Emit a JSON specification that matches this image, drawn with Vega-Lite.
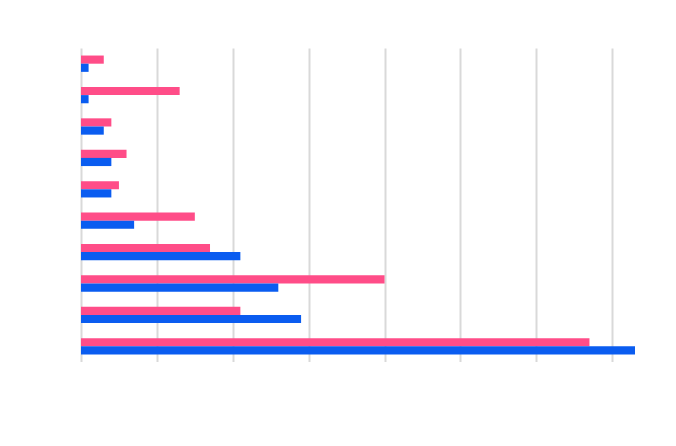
{
  "$schema": "https://vega.github.io/schema/vega-lite/v6.json",
  "autosize": "none",
  "padding": {"left": 81, "top": 48, "right": 0, "bottom": 0},
  "width": 554,
  "height": 314,
  "background": "white",
  "config": {"view": {"stroke": null}},
  "data": {"values": [
    {"c": "1", "s": "A", "v": 0.3}, {"c": "1", "s": "B", "v": 0.1},
    {"c": "2", "s": "A", "v": 1.3}, {"c": "2", "s": "B", "v": 0.1},
    {"c": "3", "s": "A", "v": 0.4}, {"c": "3", "s": "B", "v": 0.3},
    {"c": "4", "s": "A", "v": 0.6}, {"c": "4", "s": "B", "v": 0.4},
    {"c": "5", "s": "A", "v": 0.5}, {"c": "5", "s": "B", "v": 0.4},
    {"c": "6", "s": "A", "v": 1.5}, {"c": "6", "s": "B", "v": 0.7},
    {"c": "7", "s": "A", "v": 1.7}, {"c": "7", "s": "B", "v": 2.1},
    {"c": "8", "s": "A", "v": 4.0}, {"c": "8", "s": "B", "v": 2.6},
    {"c": "9", "s": "A", "v": 2.1}, {"c": "9", "s": "B", "v": 2.9},
    {"c": "10", "s": "A", "v": 6.7}, {"c": "10", "s": "B", "v": 7.3}
  ]},
  "mark": "bar",
  "encoding": {
    "y": {"field": "c", "type": "nominal", "sort": null, "scale": {"paddingInner": 0.48, "paddingOuter": 0.24}, "axis": null},
    "yOffset": {"field": "s", "type": "nominal"},
    "x": {"field": "v", "type": "quantitative", "scale": {"domain": [0, 7.3], "nice": false},
      "axis": {"title": null, "labels": false, "ticks": false, "domain": false, "values": [0,1,2,3,4,5,6,7], "grid": true, "gridColor": "#d9d9d9", "gridWidth": 2}},
    "color": {"field": "s", "type": "nominal", "scale": {"range": ["#ff4d88", "#0a5cf0"]},
      "legend": {"orient": "none", "legendX": 192, "legendY": 358, "direction": "horizontal", "columns": 2, "title": null,
        "symbolType": "square", "symbolSize": 90, "symbolStrokeWidth": 0, "labelExpr": "''", "columnPadding": 76, "labelLimit": 10}}
  }
}
